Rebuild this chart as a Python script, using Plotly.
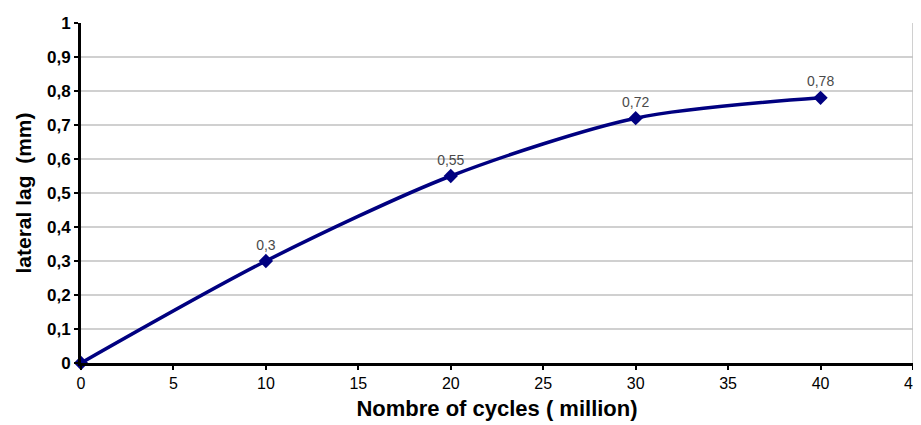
import plotly.graph_objects as go

cycles = [0, 10, 20, 30, 40]
lag = [0, 0.3, 0.55, 0.72, 0.78]
labels = ["", "0,3", "0,55", "0,72", "0,78"]
yticks = [0, 0.1, 0.2, 0.3, 0.4, 0.5, 0.6, 0.7, 0.8, 0.9, 1]
yticktext = ["0", "0,1", "0,2", "0,3", "0,4", "0,5", "0,6", "0,7", "0,8", "0,9", "1"]
xticks = [0, 5, 10, 15, 20, 25, 30, 35, 40, 45]

fig = go.Figure()
fig.add_trace(go.Scatter(
    x=cycles, y=lag, mode="lines+markers+text",
    line=dict(color="#000080", width=3.5, shape="spline", smoothing=0.8),
    marker=dict(symbol="diamond", size=11, color="#000080"),
    text=labels, textposition="top center",
    textfont=dict(family="Arial", size=14, color="#4a4a4a"),
    cliponaxis=False,
))

# page body has an 8px margin, so the figure starts at (8, 8)
fig.update_layout(
    width=913, height=417,
    margin=dict(l=73, r=8, t=15, b=62, autoexpand=False),
    paper_bgcolor="white", plot_bgcolor="white",
    showlegend=False,
    font=dict(family="Arial"),
)
fig.update_xaxes(
    range=[0, 45], tickvals=xticks, automargin=False, ticklabeloverflow="allow",
    showgrid=False, showline=True, linecolor="black", linewidth=3,
    ticks="outside", ticklen=4, tickwidth=2, tickcolor="black",
    tickfont=dict(family="Arial", size=16, color="black"),
    title=dict(text="<b>Nombre of cycles ( million)</b>", font=dict(family="Arial", size=22, color="black"), standoff=10),
    zeroline=False,
)
fig.update_yaxes(
    range=[0, 1], tickvals=yticks, ticktext=["<b>%s</b>" % t for t in yticktext], automargin=False,
    showgrid=True, gridcolor="#d0d0d0", gridwidth=1.5,
    showline=True, linecolor="black", linewidth=3,
    ticks="outside", ticklen=4, tickwidth=2, tickcolor="black",
    tickfont=dict(family="Arial", size=17, color="black"),
    title=dict(text="<b>lateral lag  (mm)</b>", font=dict(family="Arial", size=21, color="black"), standoff=10),
    zeroline=False,
)
fig.add_shape(type="line", xref="x", yref="y", x0=45, x1=45, y0=0, y1=1,
              line=dict(color="#c0c0c0", width=1.5))

fig.write_html("out.html")
